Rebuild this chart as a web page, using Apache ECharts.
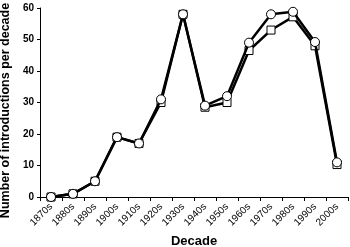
<!DOCTYPE html>
<html><head><meta charset="utf-8">
<script src="https://cdn.jsdelivr.net/npm/echarts@6/dist/echarts.min.js"></script>
<style>html,body{margin:0;padding:0;background:#fff}#c{width:350px;height:247px}</style>
</head><body><div id="c"></div>
<script>
const decades = ['1870s','1880s','1890s','1900s','1910s','1920s','1930s','1940s','1950s','1960s','1970s','1980s','1990s','2000s'];
const squareSeries = [0,1,5,19,17,30,58,28.5,30,46.5,53,57.2,48,10.3];
const circleSeries = [0,1,5,19,17,31,58,29,32,49,58,58.8,49.2,11];
const yTicks = [0,10,20,30,40,50,60];

const chart = echarts.init(document.getElementById('c'));
const font = 'Liberation Sans, Arial, sans-serif';
chart.setOption({
  animation:false,
  backgroundColor:'#fff',
  grid:{left:40,right:2,top:8,bottom:50,containLabel:false,outerBoundsMode:'none'},
  xAxis:{type:'category',data:decades,boundaryGap:true,
    name:'Decade',nameLocation:'middle',nameGap:33,
    nameTextStyle:{fontFamily:font,fontWeight:'bold',fontSize:13,color:'#000'},
    axisLine:{lineStyle:{color:'#000',width:1}},
    axisTick:{show:true,alignWithLabel:false,length:4,lineStyle:{color:'#000'}},
    axisLabel:{rotate:45,fontFamily:font,fontSize:10,color:'#000',margin:8,interval:0},
    splitLine:{show:false}},
  yAxis:{type:'value',min:yTicks[0],max:yTicks[yTicks.length-1],interval:10,
    name:'Number of introductions per decade',nameLocation:'middle',nameGap:24,
    nameTextStyle:{fontFamily:font,fontWeight:'bold',fontSize:12.5,color:'#000',padding:[0,16,0,0]},
    axisLine:{show:true,lineStyle:{color:'#000',width:1}},
    axisTick:{show:true,length:3,lineStyle:{color:'#000'}},
    axisLabel:{fontFamily:font,fontWeight:'bold',fontSize:10,color:'#000',margin:6},
    splitLine:{show:false}},
  series:[
    {type:'line',data:squareSeries,symbol:'rect',symbolSize:8,
     lineStyle:{color:'#000',width:2.5},itemStyle:{color:'#fff',borderColor:'#000',borderWidth:1},z:2},
    {type:'line',data:circleSeries,symbol:'circle',symbolSize:9,
     lineStyle:{color:'#000',width:2.5},itemStyle:{color:'#fff',borderColor:'#000',borderWidth:1},z:3}
  ]
});
</script></body></html>
